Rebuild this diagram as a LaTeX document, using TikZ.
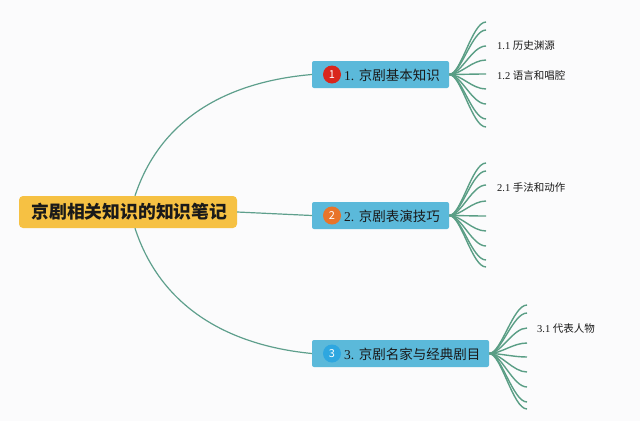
\documentclass[tikz,border=0pt]{standalone}
\usepackage{fontspec}
\setmainfont{Liberation Serif}
\newfontfamily\cjk{Noto Sans CJK SC}
\definecolor{bg}{HTML}{FBFBFC}
\definecolor{rootc}{HTML}{F6C143}
\definecolor{boxc}{HTML}{5BB9DA}
\definecolor{linec}{HTML}{5E9F8C}
\definecolor{fanc}{HTML}{5A9E85}
\definecolor{redc}{HTML}{D9261C}
\definecolor{orgc}{HTML}{E8742A}
\definecolor{bluc}{HTML}{2EA7E0}
\definecolor{txt}{HTML}{1A1A1A}
\tikzset{
  rootbox/.style={fill=rootc, rounded corners=4pt, minimum width=218pt, minimum height=32pt, inner sep=0pt},
  topicbox/.style={fill=boxc, rounded corners=2pt, minimum height=27pt, inner sep=0pt},
  topictext/.style={anchor=west, inner sep=0pt, text=txt, font=\fontsize{13.5}{15}\selectfont},
  badge/.style={circle, minimum size=18pt, inner sep=0pt, text=white, font=\fontsize{11}{12}\selectfont\cjk},
  leaf/.style={anchor=west, inner sep=0pt, text=txt, font=\fontsize{10.5}{12}\selectfont},
  conn/.style={draw=linec, line width=1.2pt},
  fan/.style={draw=fanc, line width=1.4pt},
}
\begin{document}
\begin{tikzpicture}[x=1pt,y=-1pt]
\fill[bg] (0,0) rectangle (640,421);
\useasboundingbox (0,0) rectangle (640,421);
% root
\node[rootbox] (root) at (128,212) {};
\node[inner sep=0pt, text=txt, font=\fontsize{17.8}{19}\selectfont\cjk\bfseries] (roottext) at (129.5,212) {京剧相关知识的知识笔记};
% topics
\node[topicbox, minimum width=137pt] (n1) at (380.5,74.5) {};
\node[topicbox, minimum width=137pt] (n2) at (380.5,215.5) {};
\node[topicbox, minimum width=177pt] (n3) at (400.5,353.5) {};
\node[badge, fill=redc] (b1) at (332,74.5) {1};
\node[badge, fill=orgc] (b2) at (332,215.5) {2};
\node[badge, fill=bluc] (b3) at (332,353.5) {3};
\node[topictext] (t1) at (344,75) {1. {\cjk 京剧基本知识}};
\node[topictext] (t2) at (344,216) {2. {\cjk 京剧表演技巧}};
\node[topictext] (t3) at (344,354) {3. {\cjk 京剧名家与经典剧目}};
% main connectors
\draw[conn] ([xshift=7pt]root.north) .. controls (160,120) and (225,82) .. (n1.west);
\draw[conn] (root.east) -- (n2.west);
\draw[conn] ([xshift=7pt]root.south) .. controls (160,305) and (225,345) .. (n3.west);
% fans
\foreach \y [count=\i] in {22,30,46,60,74,89,104,119,127} {
  \coordinate (fa\i) at (486,\y);
  \draw[fan] (n1.east) .. controls +(12,0) and +(-14,0) .. (fa\i);
}
\foreach \y [count=\i] in {163,171,185,201,216,231,246,260,267} {
  \coordinate (fb\i) at (486,\y);
  \draw[fan] (n2.east) .. controls +(12,0) and +(-14,0) .. (fb\i);
}
\foreach \y [count=\i] in {305,313,328,343,357,372,387,402,409} {
  \coordinate (fc\i) at (527,\y);
  \draw[fan] (n3.east) .. controls +(12,0) and +(-14,0) .. (fc\i);
}
% leaves
\node[leaf] (l11) at (497,46) {1.1 {\cjk 历史渊源}};
\node[leaf] (l12) at (497,75) {1.2 {\cjk 语言和唱腔}};
\node[leaf] (l21) at (497,187) {2.1 {\cjk 手法和动作}};
\node[leaf] (l31) at (537,329) {3.1 {\cjk 代表人物}};
\end{tikzpicture}
\end{document}
